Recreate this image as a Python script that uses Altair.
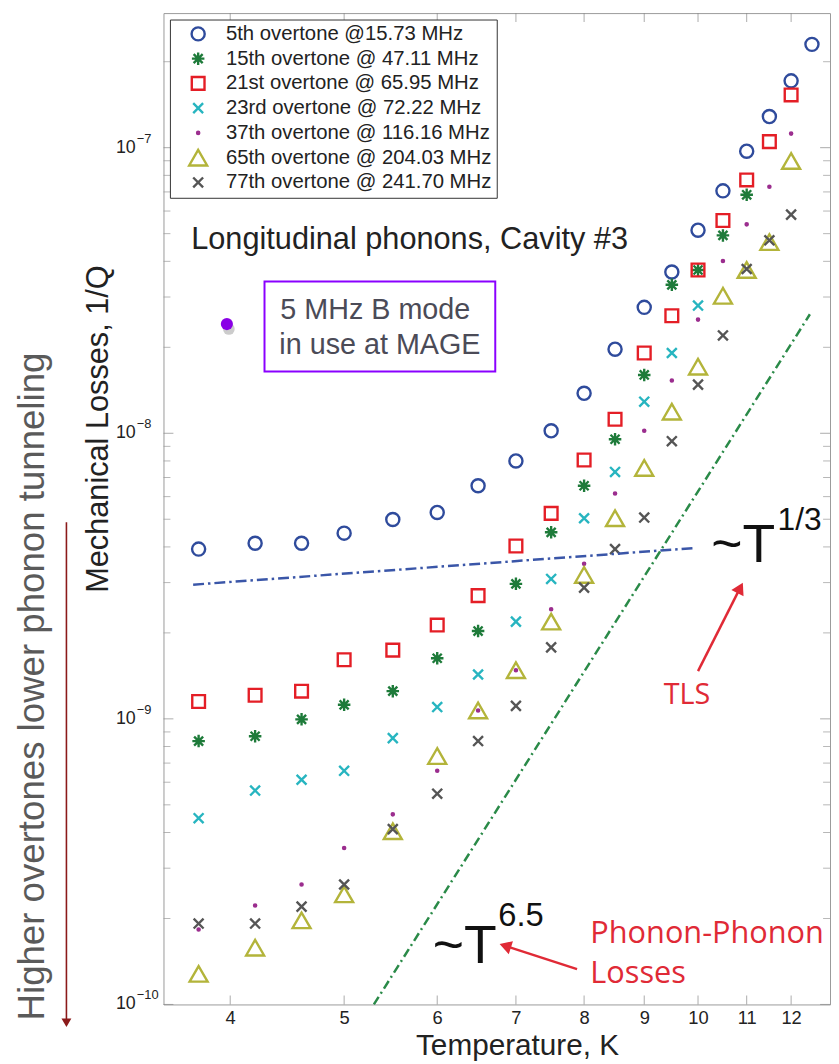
import altair as alt
import pandas as pd

# ---------------- data ----------------
temps = [3.76, 4.2, 4.6, 5.0, 5.5, 6.0, 6.5, 7.0, 7.5, 8.0, 8.5, 9.0, 9.5,
         10.0, 10.5, 11.0, 11.5, 12.0, 12.5]

series_names = [
    "5th overtone @15.73 MHz",
    "15th overtone @ 47.11 MHz",
    "21st overtone @ 65.95 MHz",
    "23rd overtone @ 72.22 MHz",
    "37th overtone @ 116.16 MHz",
    "65th overtone @ 204.03 MHz",
    "77th overtone @ 241.70 MHz",
]

loss_5th = [3.93e-9, 4.12e-9, 4.12e-9, 4.47e-9, 4.99e-9, 5.28e-9, 6.55e-9, 8.0e-9,
            1.02e-8, 1.38e-8, 1.97e-8, 2.76e-8, 3.67e-8, 5.14e-8, 7.06e-8, 9.72e-8,
            1.285e-7, 1.714e-7, 2.30e-7]
loss_15th = [8.36e-10, 8.69e-10, 9.96e-10, 1.12e-9, 1.25e-9, 1.63e-9, 2.03e-9, 2.97e-9,
             4.50e-9, 6.55e-9, 9.53e-9, 1.60e-8, 3.31e-8, 3.73e-8, 4.93e-8, 6.84e-8]
loss_21st = [1.15e-9, 1.21e-9, 1.25e-9, 1.61e-9, 1.74e-9, 2.13e-9, 2.70e-9, 4.03e-9,
             5.24e-9, 8.06e-9, 1.12e-8, 1.91e-8, 2.58e-8, 3.73e-8, 5.56e-8, 7.71e-8,
             1.05e-7, 1.53e-7]
loss_23rd = [4.49e-10, 5.61e-10, 6.12e-10, 6.58e-10, 8.56e-10, 1.10e-9, 1.43e-9, 2.19e-9,
             3.09e-9, 5.04e-9, 7.32e-9, 1.29e-8, 1.91e-8, 2.80e-8]
loss_37th = [1.83e-10, 2.22e-10, 2.63e-10, 3.53e-10, 4.63e-10, 6.58e-10, 1.07e-9, 1.48e-9,
             2.42e-9, 3.49e-9, 6.15e-9, 1.02e-8, 1.53e-8, 2.50e-8, 4.01e-8, 5.39e-8,
             7.30e-8, 1.12e-7]
loss_65th = [1.28e-10, 1.58e-10, 1.97e-10, 2.43e-10, 4.04e-10, 7.41e-10, 1.07e-9, 1.48e-9,
             2.19e-9, 3.19e-9, 5.04e-9, 7.56e-9, 1.19e-8, 1.71e-8, 3.03e-8, 3.73e-8,
             4.67e-8, 8.98e-8]
loss_77th = [1.92e-10, 1.92e-10, 2.20e-10, 2.63e-10, 4.11e-10, 5.47e-10, 8.36e-10, 1.11e-9,
             1.78e-9, 2.88e-9, 3.93e-9, 5.07e-9, 9.38e-9, 1.48e-8, 2.20e-8, 3.76e-8,
             4.74e-8, 5.83e-8]

# guide lines
tls_T = [3.72, 9.9]
tls_Q = [2.95e-9, 3.96e-9]
pp_T = [5.30, 12.45]
pp_Q = [1.0e-10, 2.61e-8]

# arrows (tail, head) in data units
tls_arrow_T = [10.0, 10.86]
tls_arrow_Q = [1.47e-9, 2.874e-9]
pp_arrow_T = [7.89, 6.855]
pp_arrow_Q = [1.33e-10, 1.604e-10]

# ticks
x_tick_values = [4, 5, 6, 7, 8, 9, 10, 11, 12]
y_major = [1e-10, 1e-9, 1e-8, 1e-7]
y_exponents = ["\u221210", "\u22129", "\u22128", "\u22127"]
y_minor = [m * 10.0 ** e for e in (-10, -9, -8, -7) for m in range(2, 10)
           if m * 10.0 ** e <= 2.9e-7]

# ---------------- styling ----------------
colors = ["#2F4B9C", "#1E7B3A", "#E41E26", "#27B5C0", "#9B2D8E", "#B3B43A", "#555555"]
ASTERISK = "M-1,0L1,0M0,-1L0,1M-0.72,-0.72L0.72,0.72M-0.72,0.72L0.72,-0.72"
XMARK = "M-1,-1L1,1M-1,1L1,-1"
shapes = ["circle", ASTERISK, "square", XMARK, "circle", "triangle-up", XMARK]
sizes = [175, 160, 165, 100, 5, 330, 100]

W, H = 673, 1001
FONT = "Liberation Sans"
RED = "#E02A36"

all_losses = [loss_5th, loss_15th, loss_21st, loss_23rd, loss_37th, loss_65th, loss_77th]
rows = []
for i, (name, vals) in enumerate(zip(series_names, all_losses)):
    for t, q in zip(temps, vals):
        rows.append({"series": name, "T": t, "Q": q, "color": colors[i],
                     "shape": shapes[i], "size": sizes[i]})
df = pd.DataFrame(rows)

# legend table (layout rows in pixels)
leg = pd.DataFrame({"series": series_names, "color": colors, "shape": shapes,
                    "size": sizes, "py": [21 + 25 * i for i in range(len(series_names))]})

xscale = alt.Scale(type="log", domain=[3.51, 12.95], nice=False, zero=False)
yscale = alt.Scale(type="log", domain=[1e-10, 2.96e-7], nice=False, zero=False)

X = alt.X("T:Q", scale=xscale, axis=alt.Axis(
    values=x_tick_values, labelExpr="format(datum.value, 'd')", ticks=False, domain=False,
    grid=False, labelFont=FONT, labelFontSize=18.5, labelColor="#222", labelPadding=4,
    title="Temperature, K", titleFont=FONT, titleFontSize=30, titleFontWeight="normal",
    titleColor="#222", titleX=357, titleY=51, titleAlign="center", titleBaseline="alphabetic"))
Y = alt.Y("Q:Q", scale=yscale, axis=None)

points = alt.Chart(df).mark_point(filled=False, strokeWidth=2.4, opacity=1).encode(
    x=X, y=Y,
    color=alt.Color("color:N", scale=None),
    shape=alt.Shape("shape:N", scale=None),
    size=alt.Size("size:Q", scale=None),
    detail="series:N",
)

tls_line = alt.Chart(pd.DataFrame({"T": tls_T, "Q": tls_Q})).mark_line(
    color="#3A56A8", strokeWidth=2.5, strokeDash=[11, 4, 2.5, 4]).encode(x=X, y=Y)
pp_line = alt.Chart(pd.DataFrame({"T": pp_T, "Q": pp_Q})).mark_line(
    color="#2A8A48", strokeWidth=2.5, strokeDash=[9, 4, 2, 4]).encode(x=X, y=Y)

# inward ticks
xt = pd.DataFrame({"T": x_tick_values})
ticks_bottom = alt.Chart(xt).mark_tick(orient="vertical", size=9, thickness=1, color="#888").encode(
    x=X, y=alt.value(H - 4.5))
ticks_top = alt.Chart(xt).mark_tick(orient="vertical", size=9, thickness=1, color="#888").encode(
    x=X, y=alt.value(4.5))
ym = pd.DataFrame({"Q": y_major})
yn = pd.DataFrame({"Q": y_minor})
ticks_left = alt.Chart(ym).mark_tick(orient="horizontal", size=10, thickness=1, color="#888").encode(
    y=Y, x=alt.value(5))
ticks_right = alt.Chart(ym).mark_tick(orient="horizontal", size=10, thickness=1, color="#888").encode(
    y=Y, x=alt.value(W - 5))
mticks_left = alt.Chart(yn).mark_tick(orient="horizontal", size=7, thickness=1, color="#999").encode(
    y=Y, x=alt.value(3.5))
mticks_right = alt.Chart(yn).mark_tick(orient="horizontal", size=7, thickness=1, color="#999").encode(
    y=Y, x=alt.value(W - 3.5))

# y tick labels "10" + superscript exponent
ylab = pd.DataFrame({"Q": y_major, "base": ["10"] * len(y_major), "exp": y_exponents})
ylab_base = alt.Chart(ylab).mark_text(align="right", baseline="middle", font=FONT,
                                      fontSize=18, color="#222").encode(
    y=Y, x=alt.value(-28), text="base:N")
ylab_exp = alt.Chart(ylab).mark_text(align="left", baseline="middle", font=FONT,
                                     fontSize=13, color="#222", dy=-9).encode(
    y=Y, x=alt.value(-27), text="exp:N")

# hand-made legend box
one = pd.DataFrame({"k": [0]})
leg_box = alt.Chart(one).mark_rect(fill="white", stroke="#333", strokeWidth=1).encode(
    x=alt.value(7), x2=alt.value(337), y=alt.value(7), y2=alt.value(187))
leg_sym = alt.Chart(leg).mark_point(filled=False, strokeWidth=2.4, opacity=1).encode(
    x=alt.value(35), y=alt.Y("py:Q", scale=None, axis=None),
    color=alt.Color("color:N", scale=None),
    shape=alt.Shape("shape:N", scale=None),
    size=alt.Size("size:Q", scale=None))
leg_txt = alt.Chart(leg).mark_text(align="left", baseline="middle", font=FONT, fontSize=20.5,
                                   color="#222").encode(
    x=alt.value(63), y=alt.Y("py:Q", scale=None, axis=None), text="series:N")


def label(txt, x, y, size, color="#222", font=FONT, align="left", baseline="alphabetic", angle=0):
    kw = dict(align=align, baseline=baseline, font=font, fontSize=size, color=color)
    if angle:
        kw["angle"] = angle
    return alt.Chart(pd.DataFrame({"t": [txt]})).mark_text(**kw).encode(
        x=alt.value(x), y=alt.value(y), text="t:N")


y_title = label("Mechanical Losses, 1/Q", -65, 420, 31, align="center", baseline="middle", angle=270)
side_text = label("Higher overtones lower phonon tunneling", -132, 680, 37, color="#5a5a5a",
                  align="center", baseline="middle", angle=270)
side_arrow = alt.Chart(one).mark_rule(color="#8B1A1A", strokeWidth=1.6).encode(
    x=alt.value(-98), y=alt.value(514), y2=alt.value(1018))
side_head = alt.Chart(one).mark_point(shape="triangle-down", filled=True, size=100,
                                      color="#8B1A1A", opacity=1).encode(
    x=alt.value(-98), y=alt.value(1019.5))

title_txt = label("Longitudinal phonons, Cavity #3", 28, 238, 31, color="#222")

box = alt.Chart(one).mark_rect(fill="white", stroke="#8A00FF", strokeWidth=2).encode(
    x=alt.value(102), x2=alt.value(335), y=alt.value(271), y2=alt.value(362))
box_t1 = label("5 MHz B mode", 118, 309, 29, color="#4b4b57")
box_t2 = label("in use at MAGE", 117, 344, 29, color="#4b4b57")
dot_shadow = alt.Chart(one).mark_point(shape="circle", filled=True, size=140, color="#555",
                                       opacity=0.3).encode(x=alt.value(66), y=alt.value(319))
dot = alt.Chart(one).mark_point(shape="circle", filled=True, size=150, color="#8A00E6",
                                opacity=1).encode(x=alt.value(64), y=alt.value(314))

t13 = label("~T", 553, 554, 54, color="#111")
t13e = label("1/3", 620, 522, 32, color="#111")
t65 = label("~T", 272, 959, 54, color="#111")
t65e = label("6.5", 338, 922, 33, color="#111")

tls_txt = label("TLS", 505, 698, 29, color=RED, font="Open Sans")
pp1 = label("Phonon-Phonon", 431, 939, 31, color=RED, font="Open Sans")
pp2 = label("Losses", 431, 979, 31, color=RED, font="Open Sans")

tls_arrow = alt.Chart(pd.DataFrame({"T": [tls_arrow_T[0]], "Q": [tls_arrow_Q[0]],
                                    "T2": [tls_arrow_T[1]], "Q2": [tls_arrow_Q[1]]})).mark_rule(
    color=RED, strokeWidth=2.5).encode(x=X, y=Y, x2="T2:Q", y2="Q2:Q")
tls_head = alt.Chart(pd.DataFrame({"T": [tls_arrow_T[1]], "Q": [tls_arrow_Q[1]]})).mark_point(
    shape="triangle-up", filled=True, size=190, angle=27, color=RED, opacity=1).encode(x=X, y=Y)
pp_arrow = alt.Chart(pd.DataFrame({"T": [pp_arrow_T[0]], "Q": [pp_arrow_Q[0]],
                                   "T2": [pp_arrow_T[1]], "Q2": [pp_arrow_Q[1]]})).mark_rule(
    color=RED, strokeWidth=2.5).encode(x=X, y=Y, x2="T2:Q", y2="Q2:Q")
pp_head = alt.Chart(pd.DataFrame({"T": [pp_arrow_T[1]], "Q": [pp_arrow_Q[1]]})).mark_point(
    shape="triangle-up", filled=True, size=190, angle=288, color=RED, opacity=1).encode(x=X, y=Y)

chart = alt.layer(
    points, tls_line, pp_line,
    ticks_bottom, ticks_top, ticks_left, ticks_right, mticks_left, mticks_right,
    ylab_base, ylab_exp, y_title, side_text, side_arrow, side_head,
    leg_box, leg_sym, leg_txt,
    title_txt, box, box_t1, box_t2, dot_shadow, dot,
    t13, t13e, t65, t65e, tls_txt, pp1, pp2,
    tls_arrow, tls_head, pp_arrow, pp_head,
).properties(
    width=W, height=H,
    padding={"left": 157, "top": 0, "right": 1, "bottom": 55},
    autosize=alt.AutoSizeParams(type="none"),
).configure(font=FONT).configure_view(
    stroke="#9a9a9a", strokeWidth=1
)

chart.save("out.html", embed_options={"renderer": "svg", "actions": False})
